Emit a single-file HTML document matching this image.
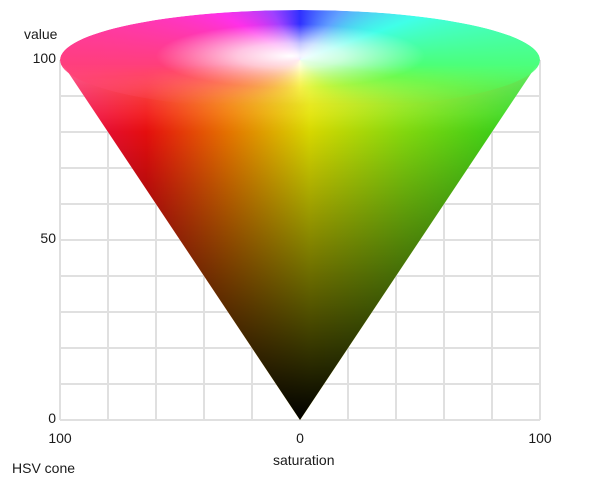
<!DOCTYPE html>
<html><head><meta charset="utf-8"><style>
body{margin:0;background:#fff;width:600px;height:480px;overflow:hidden;position:relative;font-family:"Liberation Sans",sans-serif;}
.t{position:absolute;font-size:14px;color:#1a1a1a;}
#top{position:absolute;left:60px;top:10px;width:480px;height:100px;border-radius:50%;
-webkit-mask-image:linear-gradient(to bottom,#000 55%,rgba(0,0,0,0) 95%);mask-image:linear-gradient(to bottom,#000 55%,rgba(0,0,0,0) 95%);
background:radial-gradient(ellipse 28% 32% at 48% 46%,rgba(255,255,255,1) 0%,rgba(255,255,255,0.7) 40%,rgba(255,255,255,0) 100%),
conic-gradient(from 0deg at 50% 50%,#3030ff 0deg,#60a0ff 40deg,#40ffe8 70deg,#50ff50 100deg,#b0ff40 140deg,#ffff60 180deg,#ffb060 220deg,#ff4070 265deg,#ff30e8 300deg,#a040ff 330deg,#3030ff 360deg);}
</style></head><body>
<svg id="chart" width="600" height="480" style="position:absolute;left:0;top:0">
<defs>
<linearGradient id="hue" x1="0" y1="0" x2="1" y2="0">
<stop offset="0" stop-color="#ff1060"/><stop offset="0.18" stop-color="#ff1010"/>
<stop offset="0.35" stop-color="#ff8000"/><stop offset="0.52" stop-color="#f0f000"/>
<stop offset="0.72" stop-color="#90f010"/><stop offset="1" stop-color="#20e020"/>
</linearGradient>
<linearGradient id="shade" x1="0" y1="0" x2="0" y2="1">
<stop offset="0" stop-color="#000" stop-opacity="0"/><stop offset="0.15" stop-color="#000" stop-opacity="0.05"/>
<stop offset="1" stop-color="#000" stop-opacity="1"/>
</linearGradient>
<linearGradient id="pale" x1="0" y1="0" x2="0" y2="1">
<stop offset="0" stop-color="#fff" stop-opacity="0.35"/><stop offset="0.2" stop-color="#fff" stop-opacity="0"/>
</linearGradient>
</defs>
<g id="grid"></g>
<g>
<polygon points="60,60 540,60 300,420" fill="url(#hue)"/>
<polygon points="60,60 540,60 300,420" fill="url(#pale)"/>
<polygon points="60,60 540,60 300,420" fill="url(#shade)"/>
</g>
</svg>
<div id="top"></div>
<div class="t" style="left:24px;top:26px">value</div>
<div class="t" style="left:273px;top:452px">saturation</div>
<div class="t" style="left:12px;top:460px">HSV cone</div>
<div id="labels"></div>
<script>
const yTicks=[0,50,100];
const xTicks=[-100,0,100];
const gridV=[0,10,20,30,40,50,60,70,80,90,100];
const gridS=[-100,-80,-60,-40,-20,0,20,40,60,80,100];
const y=v=>420-v*3.6, x=s=>300+s*2.4;
const g=document.getElementById('grid'),NS='http://www.w3.org/2000/svg';
gridV.forEach(v=>{const l=document.createElementNS(NS,'line');
l.setAttribute('x1',60);l.setAttribute('x2',540);l.setAttribute('y1',y(v));l.setAttribute('y2',y(v));
l.setAttribute('stroke','#e0e0e0');l.setAttribute('stroke-width',2);


g.appendChild(l);});
gridS.forEach(s=>{const l=document.createElementNS(NS,'line');
l.setAttribute('x1',x(s));l.setAttribute('x2',x(s));l.setAttribute('y1',60);l.setAttribute('y2',420);
l.setAttribute('stroke','#e0e0e0');l.setAttribute('stroke-width',2);


g.appendChild(l);});
const L=document.getElementById('labels');
yTicks.forEach(v=>{const d=document.createElement('div');d.className='t';d.textContent=v;
d.style.right=(600-56)+'px';d.style.top=(y(v)-10)+'px';


L.appendChild(d);});
xTicks.forEach(s=>{const d=document.createElement('div');d.className='t';d.textContent=Math.abs(s);
d.style.left=x(s)+'px';d.style.top='430px';d.style.transform='translateX(-50%)';


L.appendChild(d);});
</script>
</body></html>
